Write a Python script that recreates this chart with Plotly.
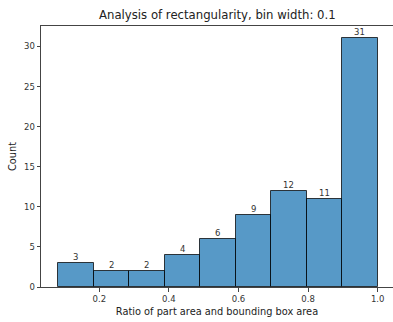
import numpy as np
import plotly.graph_objects as go

# Data
counts = [3, 2, 2, 4, 6, 9, 12, 11, 31]
bin_min = 0.082
bin_max = 1.0
x_ticks = [0.2, 0.4, 0.6, 0.8, 1.0]
x_tick_labels = ["0.2", "0.4", "0.6", "0.8", "1.0"]
y_ticks = [0, 5, 10, 15, 20, 25, 30]

edges = np.linspace(bin_min, bin_max, len(counts) + 1)
centers = (edges[:-1] + edges[1:]) / 2
widths = np.diff(edges)

FONT = "DejaVu Sans"

fig = go.Figure(
    go.Bar(
        x=centers,
        y=counts,
        width=widths,
        marker=dict(color="rgba(31,119,180,0.75)", line=dict(color="rgba(0,0,0,0.75)", width=1)),
        hoverinfo="x+y",
    )
)

for xc, c in zip(centers, counts):
    fig.add_annotation(
        x=xc, y=c, text=str(c), showarrow=False,
        yanchor="bottom", yshift=-1,
        font=dict(family=FONT, size=8.5, color="#333"),
    )

fig.update_layout(
    width=393,
    height=322,
    margin=dict(l=41, r=0, t=25.5, b=34.7),
    plot_bgcolor="white",
    paper_bgcolor="white",
    showlegend=False,
    bargap=0,
    font=dict(family=FONT, color="#333"),
    title=dict(
        text="Analysis of rectangularity, bin width: 0.1",
        x=(41 + 393.7) / 2 / 393,
        xanchor="center",
        y=1 - 14.5 / 322,
        yanchor="middle",
        font=dict(family=FONT, size=11.7, color="#222"),
    ),
    xaxis=dict(
        range=[0.0325, 1.044],
        tickvals=x_ticks,
        ticktext=x_tick_labels,
        ticks="outside",
        ticklen=3.5,
        tickcolor="#444",
        showgrid=False,
        zeroline=False,
        showline=True,
        linecolor="#444",
        linewidth=1,
        mirror=True,
        tickfont=dict(family=FONT, size=8.5, color="#333"),
        title=dict(text="Ratio of part area and bounding box area", font=dict(family=FONT, size=9.8, color="#222"), standoff=5),
    ),
    yaxis=dict(
        range=[0, 32.55],
        tickvals=y_ticks,
        ticks="outside",
        ticklen=3.5,
        tickcolor="#444",
        showgrid=False,
        zeroline=False,
        showline=True,
        linecolor="#444",
        linewidth=1,
        tickfont=dict(family=FONT, size=8.5, color="#333"),
        title=dict(text="Count", font=dict(family=FONT, size=9.8, color="#222"), standoff=5),
    ),
)

fig.write_html("out.html")
